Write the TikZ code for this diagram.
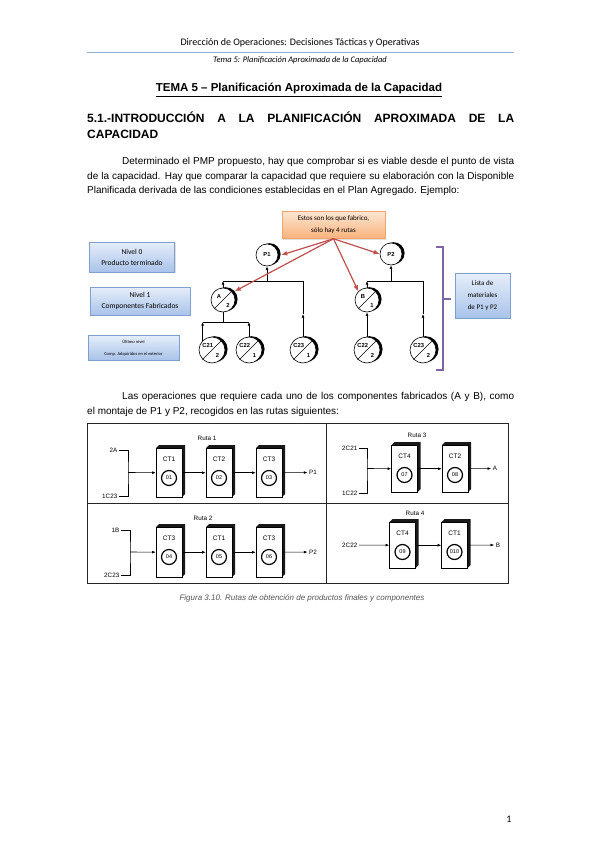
\documentclass[tikz,border=0pt]{standalone}
\usepackage{fontspec}
\setmainfont{Liberation Sans}
\newfontfamily\carl{Carlito}
\usetikzlibrary{arrows.meta,shadows}
\definecolor{hdrblue}{HTML}{95B3D7}
\definecolor{redarr}{HTML}{C0504D}
\definecolor{purp}{HTML}{8064A2}
\definecolor{bbord}{HTML}{7F9FD0}
\definecolor{btop}{HTML}{E6EEF9}
\definecolor{bbot}{HTML}{A9C3EA}
\definecolor{otop}{HTML}{FDE6D2}
\definecolor{obot}{HTML}{F8B27C}
\definecolor{obord}{HTML}{F2A56A}
\definecolor{capgray}{HTML}{555555}
\newcommand\bodyfs{\fontsize{10}{12}\selectfont}
\newcommand\bomfs{\fontsize{5.8}{7}\selectfont\bfseries}
% BOM circle with slash: name, x, y, r, label, qty
\newcommand\bomnode[6]{%
  \fill[black] ({#2+2.6},{#3-0.8}) circle[radius=#4pt];
  \node[circle,draw,fill=white,line width=0.6pt,minimum size=#4pt*2,inner sep=0pt] (#1) at (#2,#3) {};
  \draw[line width=0.6pt] (#1.south west) -- (#1.north east);
  \node[font=\bomfs,inner sep=0pt] at ({#2-0.33*#4},{#3-0.33*#4}) {#5};
  \node[font=\bomfs,inner sep=0pt] at ({#2+0.42*#4},{#3+0.45*#4}) {#6};
}
% BOM circle without slash: name, x, y, r, label
\newcommand\pnode[5]{%
  \fill[black] ({#2+2.6},{#3-0.8}) circle[radius=#4pt];
  \node[circle,draw,fill=white,line width=0.6pt,minimum size=#4pt*2,inner sep=0pt,font=\bomfs] (#1) at (#2,#3) {#5};
}
% work centre box: name, xc, ytop, h, label, num
\newcommand\ctbox[6]{%
  \fill[black!90] ({#2-13},{#3}) -- ({#2-10},{#3-3}) -- ({#2+16},{#3-3}) -- ({#2+16},{#3+#4-3}) -- ({#2+13},{#3+#4}) -- cycle;
  \node[draw,line width=0.5pt,fill=white,minimum width=26pt,minimum height=#4pt,inner sep=0pt,anchor=north] (#1) at (#2,#3) {};
  \node[font=\fontsize{6.5}{7}\selectfont,inner sep=0pt] (#1l) at (#2,{#3+11}) {#5};
  \node[draw,circle,line width=1.2pt,minimum size=15pt,inner sep=0pt,font=\fontsize{5.5}{6}\selectfont] (#1n) at (#2,{#3+30}) {#6};
}
\begin{document}
\begin{tikzpicture}[x=1pt,y=-1pt,>={Latex[length=3.6pt,width=2.8pt]},
  bluebox/.style={draw=bbord,line width=0.5pt,top color=btop,bottom color=bbot,align=center,inner sep=1pt,
    drop shadow={opacity=0.25,shadow xshift=1.2pt,shadow yshift=-1.2pt}},
  orangebox/.style={draw=obord,line width=0.5pt,top color=otop,bottom color=obot,align=center,inner sep=1pt,
    drop shadow={opacity=0.25,shadow xshift=1.2pt,shadow yshift=-1.2pt}},
  tree/.style={line width=0.6pt},
  redarrow/.style={redarr,line width=1.2pt,-{Latex[length=6pt,width=5pt]}},
  frame/.style={line width=0.9pt,black!85},
  rline/.style={line width=0.6pt},
  rlab/.style={font=\fontsize{6.3}{7}\selectfont,inner sep=1.5pt},
  line/.style={anchor=base west,inner sep=0pt}]
\useasboundingbox[fill=white] (0,0) rectangle (599,848);

% ---------- header ----------
\node[anchor=base] (hdr) at (300,46) {\carl\fontsize{10}{12}\selectfont Dirección de Operaciones: Decisiones Tácticas y Operativas};
\draw[hdrblue,line width=0.8pt] (87,52) -- (514,52);
\node[anchor=base] (sub) at (300,63) {\carl\itshape\fontsize{8.5}{10}\selectfont Tema 5: Planificación Aproximada de la Capacidad};

\node[anchor=base] (title) at (299,92) {\bfseries\fontsize{11.5}{13}\selectfont\underline{TEMA 5 – Planificación Aproximada de la Capacidad}};

\node[line] (s1) at (87,122) {\bfseries\fontsize{12}{14}\selectfont\makebox[427pt][s]{5.1.-INTRODUCCIÓN A LA PLANIFICACIÓN APROXIMADA DE LA}};
\node[line] (s2) at (87,139) {\bfseries\fontsize{12}{14}\selectfont CAPACIDAD};

\node[line] (p1t) at (122,164.5) {\bodyfs\makebox[392pt][s]{Determinado el PMP propuesto, hay que comprobar si es viable desde el punto de vista}};
\node[line] (p2t) at (87,179) {\bodyfs\makebox[427pt][s]{de la capacidad. Hay que comparar la capacidad que requiere su elaboración con la Disponible}};
\node[line] (p3t) at (87,193.5) {\bodyfs Planificada derivada de las condiciones establecidas en el Plan Agregado. Ejemplo:};

% ---------- BOM tree ----------
\node[bluebox,minimum width=85pt,minimum height=30pt] (n0) at (132,257) {\carl\fontsize{7.5}{9}\selectfont Nivel 0\\[-1pt]\carl\fontsize{7.5}{9}\selectfont Producto terminado};
\node[bluebox,minimum width=100pt,minimum height=28pt] (n1) at (140,301) {\carl\fontsize{7.5}{9}\selectfont Nivel 1\\[-1pt]\carl\fontsize{7.5}{9}\selectfont Componentes Fabricados};
\node[bluebox,minimum width=91pt,minimum height=25pt] (nu) at (133.5,347.5) {\carl\fontsize{4.5}{5.5}\selectfont Último nivel\\\carl\fontsize{4.5}{5.5}\selectfont Comp. Adquiridos en el exterior};
\node[orangebox,minimum width=103pt,minimum height=27pt] (or) at (333.5,225) {\carl\fontsize{7}{9}\selectfont Estos son los que fabrico,\\\carl\fontsize{7}{9}\selectfont sólo hay 4 rutas};
\node[bluebox,minimum width=55pt,minimum height=45pt] (lm) at (482.5,295.5) {\carl\fontsize{7}{10}\selectfont Lista de\\\carl\fontsize{7}{10}\selectfont materiales\\\carl\fontsize{7}{10}\selectfont de P1 y P2};

\pnode{pp1}{267}{255}{11}{P1}
\pnode{pp2}{391}{254}{11}{P2}
\bomnode{ca}{223}{300}{12}{A}{2}
\bomnode{cb}{367}{300}{12}{B}{1}
\bomnode{c21}{212}{350}{13}{C21}{2}
\bomnode{c22}{249}{350}{13}{C22}{1}
\bomnode{c23}{303}{350}{13}{C23}{1}
\bomnode{c22b}{367}{350}{13}{C22}{2}
\bomnode{c23b}{423}{350}{13}{C23}{2}

% tree of P1
\coordinate (b1l) at (223,281);
\coordinate (b1m) at (267,281);
\coordinate (b1r) at (303,281);
\coordinate (m23) at (303,314);
\draw[tree] (b1l) -- (b1r);
\draw[tree,->] (b1m) -- (pp1);
\draw[tree,->] (ca) -- (b1l);
\draw[tree,->] (c23) -- (m23);
\draw[tree] (m23) -- (b1r);
% tree of A
\coordinate (b2) at (223,322);
\coordinate (b2r) at (249,322);
\draw[tree] (ca) -- (b2);
\draw[tree] (c21.north west |- b2) -- (b2r);
\draw[tree,->] (c21.north west) -- (c21.north west |- b2);
\draw[tree,->] (c22) -- (b2r);
% tree of P2
\coordinate (b3l) at (367,281);
\coordinate (b3m) at (391,281);
\coordinate (b3r) at (423,281);
\coordinate (m23b) at (423,314);
\draw[tree] (b3l) -- (b3r);
\draw[tree,->] (b3m) -- (pp2);
\draw[tree,->] (cb) -- (b3l);
\draw[tree,->] (c23b) -- (m23b);
\draw[tree] (m23b) -- (b3r);
\draw[tree,->] (c22b) -- (cb);

% red arrows
\draw[redarrow] (or.south) -- ([xshift=3pt]pp1.east);
\draw[redarrow] (or.south) -- ([xshift=3pt]ca.north east);
\draw[redarrow] (or.south) -- (cb.north west);
\draw[redarrow] (or.south) -- (pp2.west);

% purple bracket
\draw[purp,line width=1.5pt] (436,247) -- (443,247) -- (443,370) -- (436,370);
\draw[purp,line width=1.5pt] (443,299) -- (451,299);

\node[line] (q1) at (122,399.5) {\bodyfs\makebox[392pt][s]{Las operaciones que requiere cada uno de los componentes fabricados (A y B), como}};
\node[line] (q2) at (87,414.5) {\bodyfs el montaje de P1 y P2, recogidos en las rutas siguientes:};

% ---------- routing figure ----------
\draw[frame] (87,423) rectangle (508,583);
\draw[frame] (326,423) -- (326,583);
\draw[frame] (87,503) -- (508,503);

% Ruta 1
\node[rlab] (t1) at (207,438) {Ruta 1};
\node[rlab,anchor=east] (i2a) at (119,450) {2A};
\node[rlab,anchor=east] (i1c23) at (119,496) {1C23};
\coordinate (r1m) at (128,472.5);
\draw[rline] (i2a) -| (r1m) |- (i1c23);
\ctbox{ct11}{169}{448}{49}{CT1}{01}
\ctbox{ct12}{219}{448}{49}{CT2}{02}
\ctbox{ct13}{269}{448}{49}{CT3}{03}
\node[rlab] (o1) at (313,472.5) {P1};
\draw[rline,->] (r1m) -- (ct11);
\draw[rline,->] (ct11) -- (ct12);
\draw[rline,->] (ct12) -- (ct13);
\draw[rline,->] (ct13) -- (o1);

% Ruta 3
\node[rlab] (t3) at (417,435) {Ruta 3};
\node[rlab,anchor=east] (i2c21) at (359,448) {2C21};
\node[rlab,anchor=east] (i1c22) at (359,493) {1C22};
\coordinate (r3m) at (367,468.5);
\draw[rline] (i2c21) -| (r3m) |- (i1c22);
\ctbox{ct31}{404.5}{445}{47}{CT4}{07}
\ctbox{ct32}{455}{445}{47}{CT2}{08}
\node[rlab] (o3) at (495,468.5) {A};
\draw[rline,->] (r3m) -- (ct31);
\draw[rline,->] (ct31) -- (ct32);
\draw[rline,->] (ct32) -- (o3);

% Ruta 2
\node[rlab] (t2) at (203,518) {Ruta 2};
\node[rlab,anchor=east] (i1b) at (121,530) {1B};
\node[rlab,anchor=east] (i2c23) at (121,575) {2C23};
\coordinate (r2m) at (130,552);
\draw[rline] (i1b) -| (r2m) |- (i2c23);
\ctbox{ct21}{169}{527}{50}{CT3}{04}
\ctbox{ct22}{219}{527}{50}{CT1}{05}
\ctbox{ct23}{269}{527}{50}{CT3}{06}
\node[rlab] (o2) at (313,552) {P2};
\draw[rline,->] (r2m) -- (ct21);
\draw[rline,->] (ct21) -- (ct22);
\draw[rline,->] (ct22) -- (ct23);
\draw[rline,->] (ct23) -- (o2);

% Ruta 4
\node[rlab] (t4) at (415,513) {Ruta 4};
\node[rlab,anchor=east] (i2c22) at (359,545) {2C22};
\ctbox{ct41}{402.5}{522}{46}{CT4}{09}
\ctbox{ct42}{454.5}{522}{46}{CT1}{010}
\node[rlab] (o4) at (498,545) {B};
\draw[rline,->] (i2c22) -- (ct41);
\draw[rline,->] (ct41) -- (ct42);
\draw[rline,->] (ct42) -- (o4);

\node[anchor=base,text=capgray] (cap) at (302,600) {\itshape\fontsize{8}{9}\selectfont Figura 3.10. Rutas de obtención de productos finales y componentes};

\node[anchor=base] (pg) at (509,822) {\carl\fontsize{10}{12}\selectfont 1};
\end{tikzpicture}
\end{document}
